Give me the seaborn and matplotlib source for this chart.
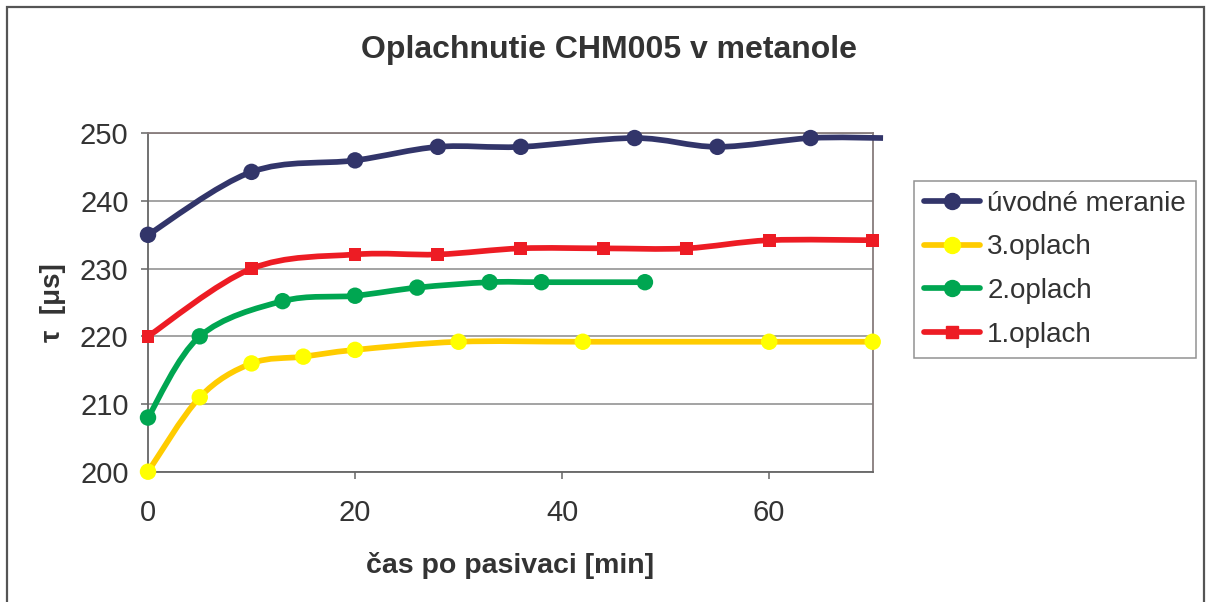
import numpy as np
import pandas as pd
import matplotlib
matplotlib.use("Agg")
import matplotlib.pyplot as plt
from matplotlib.path import Path
from matplotlib.patches import PathPatch, Rectangle
from matplotlib.lines import Line2D
import seaborn as sns

# --- data ---------------------------------------------------------------
series_names = ["úvodné meranie", "3.oplach", "2.oplach", "1.oplach"]

uvodne_x = [0, 10, 20, 28, 36, 47, 55, 64, 71]
uvodne_y = [235, 244.3, 246, 248, 248, 249.3, 248, 249.3, 249.3]

oplach3_x = [0, 5, 10, 15, 20, 30, 42, 60, 70]
oplach3_y = [200, 211, 216, 217, 218, 219.2, 219.2, 219.2, 219.2]

oplach2_x = [0, 5, 13, 20, 26, 33, 38, 48]
oplach2_y = [208, 220, 225.2, 226, 227.2, 228, 228, 228]

oplach1_x = [0, 10, 20, 28, 36, 44, 52, 60, 70]
oplach1_y = [220, 230, 232.1, 232.1, 233, 233, 233, 234.2, 234.2]

x_ticks = [0, 20, 40, 60]
y_ticks = [200, 210, 220, 230, 240, 250]

title = "Oplachnutie CHM005 v metanole"
x_label = "čas po pasivaci [min]"
y_label = "τ  [μs]"

# --- styling ------------------------------------------------------------
line_colors = {"úvodné meranie": "#32356a", "3.oplach": "#ffcc00",
               "2.oplach": "#00a651", "1.oplach": "#ed1c24"}
marker_colors = {"úvodné meranie": "#32356a", "3.oplach": "#ffff00",
                 "2.oplach": "#00a651", "1.oplach": "#ed1c24"}
marker_shapes = {"úvodné meranie": "o", "3.oplach": "o",
                 "2.oplach": "o", "1.oplach": "s"}

sns.set_theme(style="white")
plt.rcParams["font.family"] = ["Liberation Sans", "DejaVu Sans"]
text_color = "#333333"

frames = []
for name, xs, ys in [("úvodné meranie", uvodne_x, uvodne_y),
                     ("3.oplach", oplach3_x, oplach3_y),
                     ("2.oplach", oplach2_x, oplach2_y),
                     ("1.oplach", oplach1_x, oplach1_y)]:
    frames.append(pd.DataFrame({"series": name, "x": xs, "y": ys}))
df = pd.concat(frames, ignore_index=True)

fig = plt.figure(figsize=(12.13, 6.02), dpi=100)
ax = fig.add_axes([148 / 1213, 1 - 471.7 / 602,
                   (872.7 - 148) / 1213, (471.7 - 133.3) / 602])

ax.set_xlim(0, 70)
ax.set_ylim(200, 250)
ax.set_yticks(y_ticks)
ax.set_xticks(x_ticks)
ax.yaxis.grid(True, color="#8a8a8a", lw=1.1)
ax.set_axisbelow(True)


def smooth_path(xs, ys):
    """Cubic Bezier path through the points (spline-style smoothing)."""
    pts = np.column_stack([xs, ys]).astype(float)
    n = len(pts)
    verts = [pts[0]]
    codes = [Path.MOVETO]
    for i in range(n - 1):
        p_prev = pts[i - 1] if i > 0 else pts[i]
        p0, p1 = pts[i], pts[i + 1]
        p_next = pts[i + 2] if i + 2 < n else pts[i + 1]
        c1 = p0 + (p1 - p_prev) / 6.0
        c2 = p1 - (p_next - p0) / 6.0
        verts += [c1, c2, p1]
        codes += [Path.CURVE4] * 3
    return Path(verts, codes)


LINE_W = 4.1

# smoothed connecting lines
for name in series_names:
    sub = df[df["series"] == name]
    patch = PathPatch(smooth_path(sub["x"].values, sub["y"].values),
                      facecolor="none", edgecolor=line_colors[name],
                      lw=LINE_W, capstyle="butt", joinstyle="round",
                      transform=ax.transData, zorder=3, clip_on=False)
    ax.add_patch(patch)

# markers (only inside the axis range)
marks = df[df["x"] <= 70]
for name in series_names:
    sub = marks[marks["series"] == name]
    sns.scatterplot(data=sub, x="x", y="y", ax=ax,
                    color=marker_colors[name], marker=marker_shapes[name],
                    s=140 if marker_shapes[name] == "o" else 85,
                    edgecolor="none", linewidth=0, zorder=4, legend=False)
for coll in ax.collections:
    coll.set_clip_on(False)

# spines and ticks
for side in ["left", "bottom"]:
    ax.spines[side].set_color("#666666")
    ax.spines[side].set_linewidth(1.3)
for side in ["top", "right"]:
    ax.spines[side].set_color("#877c7c")
    ax.spines[side].set_linewidth(1.3)
ax.tick_params(axis="both", which="major", direction="out", length=5,
               width=1.1, color="#666666", labelsize=21,
               labelcolor=text_color)
ax.tick_params(axis="y", pad=9, left=True)
ax.tick_params(axis="x", pad=15, bottom=True)

ax.set_xlabel(x_label, fontsize=20.5, fontweight="bold", color=text_color,
              labelpad=18)
ax.set_ylabel(y_label, fontsize=20, fontweight="bold", color=text_color,
              labelpad=10)

fig.suptitle(title, x=0.502, y=1 - 35 / 602, fontsize=23, fontweight="bold",
             color=text_color, va="top")

# legend
handles = [Line2D([0], [0], color=line_colors[n], lw=LINE_W,
                  marker=marker_shapes[n],
                  markersize=11.5 if marker_shapes[n] == "o" else 8.5,
                  markerfacecolor=marker_colors[n],
                  markeredgecolor=marker_colors[n])
           for n in series_names]
leg = fig.legend(handles, series_names, loc="upper left",
                 bbox_to_anchor=(914 / 1213, 1 - 181 / 602),
                 fontsize=20, frameon=True, fancybox=False,
                 edgecolor="#777777", handlelength=2.0, handletextpad=0.28,
                 labelspacing=0.63, borderpad=0.36, borderaxespad=0)
leg.get_frame().set_linewidth(1.1)
for t in leg.get_texts():
    t.set_color(text_color)

# outer chart border
fig.patches.append(Rectangle((7 / 1213, -0.02), (1204 - 7) / 1213,
                             1 - 7 / 602 + 0.02, transform=fig.transFigure,
                             fill=False, edgecolor="#555555", lw=1.6))

fig.savefig("out.png", dpi=100)
